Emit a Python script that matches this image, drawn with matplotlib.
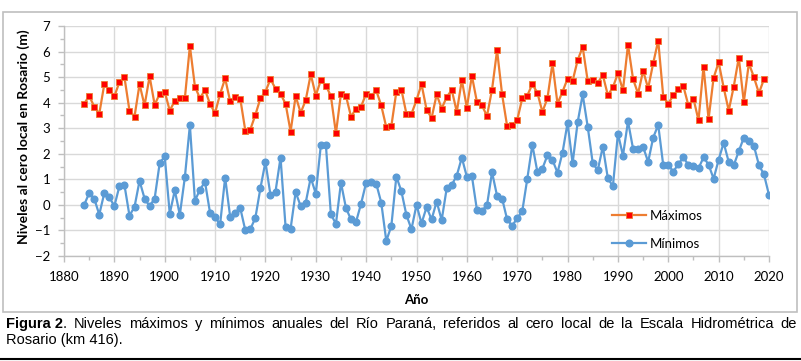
import numpy as np
import matplotlib.pyplot as plt
from matplotlib.patches import Rectangle
from matplotlib.lines import Line2D

# annual levels at Rosario (m)
years_max = list(range(1884, 2020))
maximos = [3.96, 4.26, 3.85, 3.56, 4.72, 4.50, 4.25, 4.80, 5.00, 3.69,
           3.45, 4.72, 3.89, 5.03, 3.92, 4.34, 4.43, 3.69, 4.07, 4.20,
           4.17, 6.22, 4.63, 4.17, 4.51, 3.94, 3.60, 4.34, 4.95, 4.05,
           4.24, 4.16, 2.91, 2.95, 3.52, 4.17, 4.43, 4.92, 4.55, 4.34,
           3.96, 2.87, 4.26, 3.60, 4.10, 5.11, 4.28, 4.88, 4.67, 4.26,
           2.80, 4.35, 4.26, 3.45, 3.77, 3.85, 4.35, 4.25, 4.48, 3.89,
           3.04, 3.08, 4.43, 4.51, 3.56, 3.56, 4.10, 4.72, 3.73, 3.40,
           4.32, 3.77, 4.22, 4.50, 3.64, 4.88, 3.81, 5.05, 4.03, 3.89,
           3.48, 4.51, 6.05, 4.32, 3.08, 3.12, 3.32, 4.17, 4.28, 4.72,
           4.39, 3.64, 4.17, 5.54, 3.96, 4.43, 4.94, 4.85, 5.66, 6.18,
           4.85, 4.89, 4.78, 5.08, 4.29, 4.60, 5.15, 4.48, 6.27, 4.93,
           4.35, 5.25, 4.56, 5.54, 6.43, 4.24, 3.96, 4.29, 4.52, 4.64,
           3.89, 4.16, 3.31, 5.41, 3.36, 4.97, 5.58, 4.59, 3.69, 4.63,
           5.76, 4.02, 5.54, 5.00, 4.37, 4.92]

years_min = list(range(1884, 2021))
minimos = [0.00, 0.46, 0.25, -0.38, 0.46, 0.30, -0.05, 0.73, 0.78, -0.42,
           -0.08, 0.94, 0.25, -0.05, 0.25, 1.63, 1.90, -0.35, 0.57, -0.39,
           1.08, 3.12, 0.16, 0.60, 0.90, -0.31, -0.48, -0.76, 1.07, -0.47,
           -0.30, -0.12, -0.99, -0.95, -0.51, 0.65, 1.68, 0.39, 0.52, 1.85,
           -0.86, -0.93, 0.50, -0.05, 0.09, 1.07, 0.44, 2.33, 2.36, -0.37,
           -0.74, 0.87, -0.13, -0.57, -0.66, 0.05, 0.87, 0.89, 0.83, 0.09,
           -1.41, -0.83, 1.11, 0.53, -0.40, -0.95, 0.00, -0.72, -0.09, -0.57,
           0.13, -0.59, 0.65, 0.78, 1.15, 1.85, 1.10, 1.13, -0.20, -0.23,
           -0.01, 1.28, 0.35, 0.25, -0.57, -0.82, -0.52, -0.25, 1.02, 2.35,
           1.30, 1.42, 1.94, 1.76, 1.26, 2.05, 3.21, 1.63, 3.23, 4.32,
           3.06, 1.63, 1.36, 2.28, 1.04, 0.73, 2.79, 1.93, 3.27, 2.20,
           2.19, 2.27, 1.68, 2.63, 3.13, 1.55, 1.56, 1.30, 1.60, 1.86,
           1.56, 1.53, 1.43, 1.86, 1.58, 1.02, 1.77, 2.43, 1.68, 1.55,
           2.10, 2.63, 2.49, 2.31, 1.56, 1.19, 0.39]

caption_bold = 'Figura 2'
caption_line1 = '. Niveles máximos y mínimos anuales del Río Paraná, referidos al cero local de la Escala Hidrométrica de'
caption_line2 = 'Rosario (km 416).'

c_max_line = '#ED7D31'
c_max_mark = '#FF0000'
c_min = '#5B9BD5'
tick_font = 'Lato'
cap_font = 'Liberation Sans'
W, H = 801, 361

fig = plt.figure(figsize=(W / 100, H / 100), dpi=100)

# gray frame around the chart and black rule at the bottom
fig.patches.append(Rectangle((3 / W, 1 - 312 / H), 794 / W, 300 / H,
                             transform=fig.transFigure, fill=False,
                             edgecolor='#BFBFBF', linewidth=1.2))
fig.add_artist(Line2D([0, 1], [1 - 359 / H] * 2, transform=fig.transFigure,
                      color='black', linewidth=1.5))

ax = fig.add_axes([64 / W, 1 - 256 / H, 705 / W, 230 / H])

ax.plot(years_max, maximos, color=c_max_line, linewidth=1.6, marker='s',
        markersize=4.6, markerfacecolor=c_max_mark, markeredgecolor=c_max_line,
        markeredgewidth=0.6, label='Máximos')
ax.plot(years_min, minimos, color=c_min, linewidth=1.6, marker='o',
        markersize=4.8, markerfacecolor=c_min, markeredgecolor=c_min,
        label='Mínimos')

ax.set_xlim(1880, 2020)
ax.set_ylim(-2, 7)
ax.set_xticks(np.arange(1880, 2021, 10))
ax.set_yticks(np.arange(-2, 8, 1))
ax.set_xticks(np.arange(1885, 2020, 10), minor=True)
ax.set_yticks(np.arange(-1.5, 7, 1), minor=True)
ax.grid(True, which='major', color='#D9D9D9', linewidth=1.0)
ax.set_axisbelow(True)

for side in ['top', 'right']:
    ax.spines[side].set_visible(False)
for side in ['left', 'bottom']:
    ax.spines[side].set_color('#BFBFBF')
    ax.spines[side].set_linewidth(1.0)

ax.tick_params(which='both', direction='out', color='#BFBFBF', width=1.0)
ax.tick_params(which='major', length=4, labelsize=9.5)
ax.tick_params(which='minor', length=3)
ax.tick_params(axis='y', pad=6)
ax.tick_params(axis='x', pad=7)
for lab in ax.get_xticklabels() + ax.get_yticklabels():
    lab.set_fontfamily(tick_font)

ax.set_xlabel('Año', fontsize=9.5, fontweight='bold', family=tick_font, labelpad=8)
ax.set_ylabel('Niveles al cero local en Rosario (m)', fontsize=10,
              fontweight='bold', family=tick_font)
ax.yaxis.set_label_coords(-34 / 705, 0.52)

leg = ax.legend(loc='lower left', bbox_to_anchor=(0.76, -0.025), frameon=False,
                prop={'family': tick_font, 'size': 9.5}, handlelength=2.6,
                labelspacing=1.2, handletextpad=0.3)

# caption, first line justified to the right edge
y1 = 1 - 328 / H
y2 = 1 - 344 / H
x_left, x_right = 6, 797
t1 = fig.text(x_left / W, y1, caption_bold, fontsize=10.5, fontweight='bold',
              family=cap_font, va='baseline')
fig.canvas.draw()
renderer = fig.canvas.get_renderer()
x = t1.get_window_extent(renderer).x1
words = caption_line1.split(' ')
word_texts = [fig.text(0, y1, w, fontsize=10.5, family=cap_font, va='baseline')
              for w in words]
widths = [t.get_window_extent(renderer).width for t in word_texts]
gap = (x_right - x - sum(widths)) / (len(words) - 1)
for t, w in zip(word_texts, widths):
    t.set_x(x / W)
    x += w + gap
fig.text(x_left / W, y2, caption_line2, fontsize=10.5, family=cap_font,
         va='baseline')

fig.savefig('out.png', dpi=100)
